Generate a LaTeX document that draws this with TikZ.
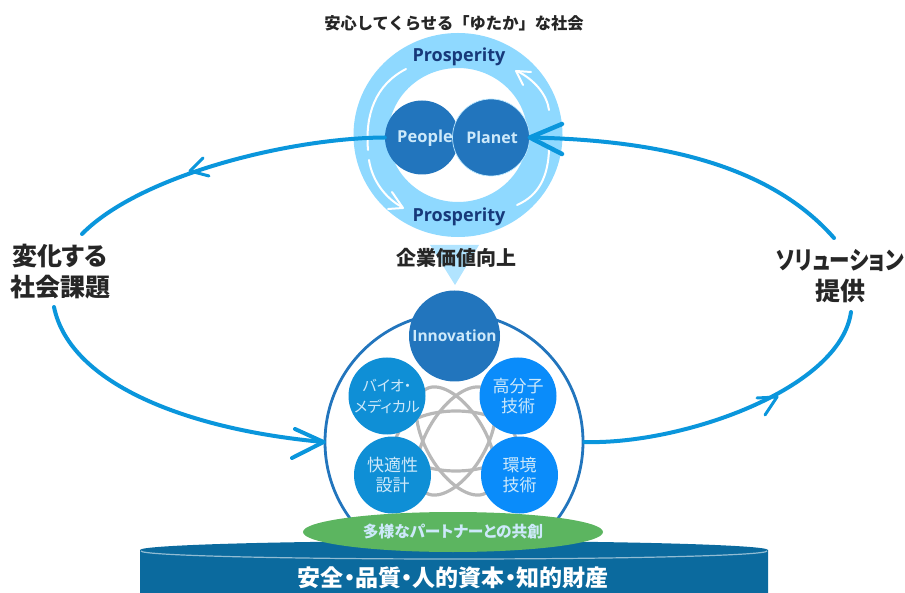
\documentclass[tikz,border=0pt]{standalone}
\usepackage{fontspec}
\usepackage{graphicx}
\setmainfont[RawFeature=+palt]{Noto Sans CJK JP}
\newfontfamily\jpfull{Noto Sans CJK JP}
\newfontfamily\latinf{Open Sans}
\usetikzlibrary{shapes.geometric}
\definecolor{ringc}{HTML}{8FD9FF}
\definecolor{darkb}{HTML}{2275BD}
\definecolor{midb}{HTML}{0F8FD6}
\definecolor{brightb}{HTML}{0A8CFA}
\definecolor{conn}{HTML}{0A96DC}
\definecolor{navy}{HTML}{17397A}
\definecolor{gbase}{HTML}{0B6A9E}
\definecolor{gre}{HTML}{5CB560}
\definecolor{pale}{HTML}{CDE9FA}
\tikzset{
 disc/.style={circle,draw=none,inner sep=0pt,align=center,text=pale},
 conline/.style={draw=conn,line width=4pt,line cap=round},
 openhead/.style={draw=conn,line width=4pt,line cap=round,line join=round},
 whitearc/.style={draw=white,line width=2pt,line cap=round,line join=round},
 title/.style={text=black!85,align=center,inner sep=0pt},
 biglabel/.style={font=\fontsize{25}{31}\selectfont\bfseries,text=black!85,align=center,inner sep=0pt},
}
\begin{document}
\begin{tikzpicture}[x=1pt,y=-1pt]
\useasboundingbox (0,0) rectangle (905,593);
% upper
\draw[ringc,line width=35pt] (458,135) ellipse[x radius=87,y radius=84.5];
\fill[ringc!70!white] (430,245) -- (479,245) -- (455,285) -- cycle;
\draw[whitearc] (406,69) .. controls (375,85) and (365,115) .. (368,150);
\draw[whitearc] (369,160) .. controls (372,180) and (385,198) .. (402,207);
\draw[whitearc] (388,209) -- (403,208) -- (392,192);
\draw[whitearc] (517,205) .. controls (540,195) and (548,175) .. (549,150);
\draw[whitearc] (549,110) .. controls (547,95) and (535,80) .. (517,71);
\draw[whitearc] (531,72) -- (516,71) -- (523,85);
\node[font=\latinf\fontsize{18}{20}\selectfont\bfseries,text=navy,inner sep=0pt] (pt) at (459,57) {Prosperity};
\node[font=\latinf\fontsize{18}{20}\selectfont\bfseries,text=navy,inner sep=0pt] (pb) at (459,217) {Prosperity};
\node[disc,fill=darkb,minimum size=74pt] (people) at (422,137.5) {};
\node[disc,fill=darkb,draw=ringc!60!white,line width=.7pt,minimum size=77pt] (planet) at (491,137.5) {};
\node[font=\latinf\fontsize{16.5}{18}\selectfont\bfseries,text=pale,inner sep=0pt] (peoplet) at (425,138) {People};
\node[font=\latinf\fontsize{16}{18}\selectfont\bfseries,text=pale,inner sep=0pt] (planett) at (492,138) {Planet};
\node[title,font=\jpfull\fontsize{16.3}{18}\selectfont\bfseries] (t1) at (454,23) {安心してくらせる「ゆたか」な社会};
\node[title,font=\jpfull\fontsize{20}{22}\selectfont\bfseries] (t2) at (456,258) {企業価値向上};
\node[biglabel] (lft) at (60,272) {変化する\\社会課題};
\node[biglabel] (rgt) at (840,276) {\scalebox{.82}[1]{ソリューション}\\提供};
% lower
\node[circle,draw=darkb,line width=2.8pt,minimum size=258pt,inner sep=0pt] (big) at (454,442) {};
\foreach \a in {0,60,120}{\draw[black!28,line width=3.2pt,rotate around={\a:(456,441)}] (456,441) ellipse[x radius=60,y radius=30];}
\node[disc,fill=darkb,minimum size=91pt,font=\latinf\fontsize{15.5}{18}\selectfont\bfseries] (inno) at (454.5,336) {Innovation};
\node[disc,fill=midb,minimum size=77pt,font=\fontsize{15}{21}\selectfont] (bio) at (387,396) {バイオ・\\メディカル};
\node[disc,fill=brightb,minimum size=77pt,font=\fontsize{17}{20}\selectfont] (poly) at (518,396) {高分子\\技術};
\node[disc,fill=midb,minimum size=77pt,font=\fontsize{17}{20}\selectfont] (kai) at (392.5,475) {快適性\\設計};
\node[disc,fill=brightb,minimum size=77pt,font=\fontsize{17}{20}\selectfont] (env) at (519.5,475) {環境\\技術};
% base
\fill[gbase] (140,550) arc[start angle=180,end angle=360,x radius=314,y radius=9] -- (768,593) -- (140,593) -- cycle;
\draw[white!55!gbase,line width=1.2pt] (141,551) arc[start angle=180,end angle=0,x radius=313,y radius=8];
\node[font=\fontsize{23}{26}\selectfont\bfseries,text=white,inner sep=0pt] (bt) at (453,578) {安全・品質・人的資本・知的財産};
\node[ellipse,fill=gre,minimum width=300pt,minimum height=40pt,inner sep=0pt,font=\fontsize{15.7}{18}\selectfont\bfseries,text=pale] (part) at (453,532) {多様なパートナーとの共創};
% connectors
\coordinate (lt) at (82,234); \coordinate (lb) at (54,307);
\coordinate (rt) at (834,238); \coordinate (rb) at (851,312);
\coordinate (lha) at (203,158); \coordinate (lhb) at (190,171); \coordinate (lhc) at (209,176);
\coordinate (bha) at (295,429); \coordinate (bhc) at (292,458);
\coordinate (rha) at (757,398); \coordinate (rhb) at (777,397); \coordinate (rhc) at (765,415);
\coordinate (tha) at (562,124); \coordinate (thc) at (562,154);
\draw[conline] (people.west) .. controls (290,138) and (140,175) .. (lt);
\draw[openhead,line width=3pt] (lha) -- (lhb) -- (lhc);
\draw[conline] (lb) .. controls (70,385) and (190,430) .. (big.west);
\draw[openhead] (bha) -- (big.west) -- (bhc);
\draw[conline] (big.east) .. controls (680,445) and (840,390) .. (rb);
\draw[openhead,line width=3pt] (rha) -- (rhb) -- (rhc);
\draw[conline] (rt) .. controls (770,165) and (660,140) .. (planet.east);
\draw[openhead,line width=4.5pt] (tha) -- (planet.east) -- (thc);
\end{tikzpicture}
\end{document}
